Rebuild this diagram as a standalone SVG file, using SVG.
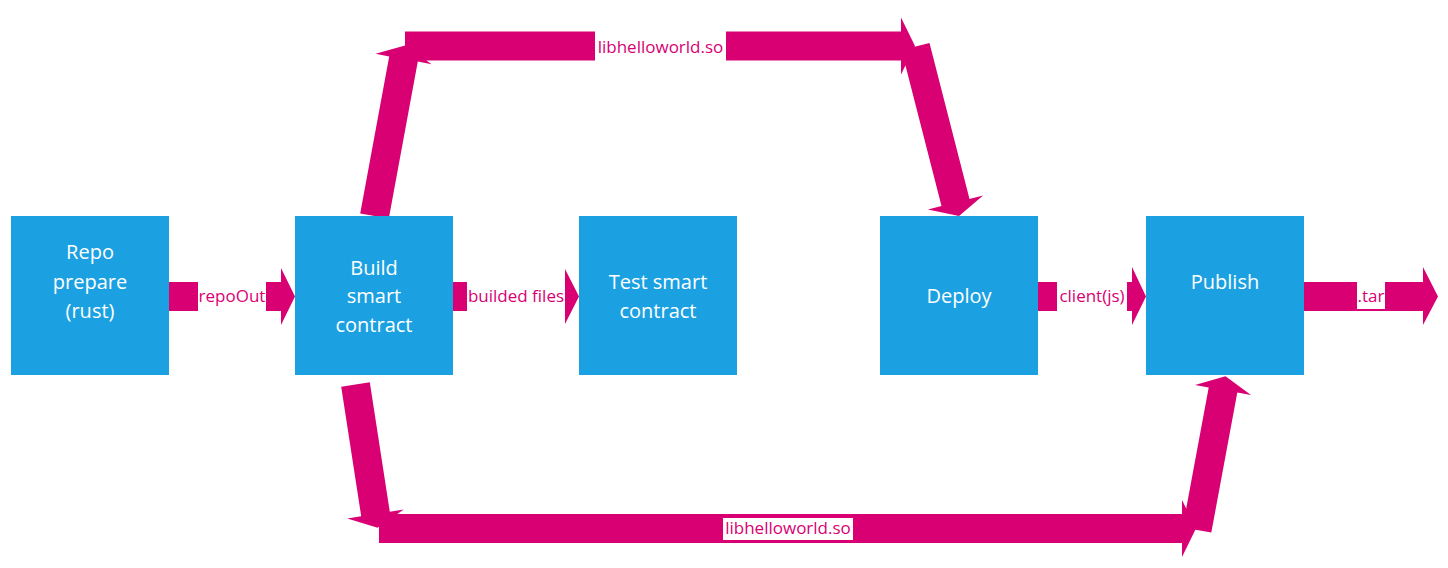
<svg xmlns="http://www.w3.org/2000/svg" width="1448" height="568" viewBox="0 0 1448 568">
<style>
.box{fill:#1BA1E2}
.nt{font-family:"Open Sans","Liberation Sans",sans-serif;font-size:20px;fill:#ffffff;text-anchor:middle}
.arr{fill:#D80073}
.lt{font-family:"Open Sans","Liberation Sans",sans-serif;font-size:17px;fill:#D80073;text-anchor:middle}
.bg{fill:#ffffff}
</style>
<rect width="1448" height="568" fill="#ffffff"/>
<g id="connectors">
  <!-- repoOut -->
  <rect class="arr" x="169" y="282" width="29" height="29"/>
  <rect class="arr" x="266" y="282" width="15" height="29"/>
  <polygon class="arr" points="281,268 295,296.5 281,325"/>
  <text class="lt" x="232" y="302">repoOut</text>
  <!-- builded files -->
  <rect class="arr" x="453" y="282" width="14" height="29"/>
  <polygon class="arr" points="565,269 579,296.5 565,324"/>
  <text class="lt" x="516" y="302">builded files</text>
  <!-- client(js) -->
  <rect class="arr" x="1038" y="282" width="19" height="29"/>
  <rect class="arr" x="1127" y="282" width="6" height="29"/>
  <polygon class="arr" points="1132,267 1146,296.5 1132,325"/>
  <text class="lt" x="1092" y="302">client(js)</text>
  <!-- .tar -->
  <rect class="arr" x="1304" y="282" width="120" height="29"/>
  <polygon class="arr" points="1423,267 1438,296.5 1423,325"/>
  <rect class="bg" x="1357" y="282" width="28" height="27"/>
  <text class="lt" x="1371" y="302">.tar</text>
  <!-- top route: Build -> Deploy -->
  <polygon class="arr" points="360.2,213.4 389.2,56.4 375.5,53.8 406,45.2 431.5,64.2 417.8,61.6 388.8,218.6"/>
  <rect class="arr" x="405" y="31.5" width="190" height="29"/>
  <rect class="arr" x="726" y="31.5" width="176" height="29"/>
  <polygon class="arr" points="901,17.5 915,46 901,74.5"/>
  <polygon class="arr" points="901.5,50.1 929.5,42.9 969.5,198.9 983.1,195.5 959,216.1 927.9,209.5 941.5,206.1"/>
  <text class="lt" x="660.5" y="53">libhelloworld.so</text>
  <!-- bottom route: Build -> Publish -->
  <polygon class="arr" points="341.2,386.7 369.8,382.3 389.8,511.8 403.7,509.6 377.6,527.8 347.3,518.4 361.2,516.2"/>
  <rect class="arr" x="379" y="514" width="804" height="29"/>
  <polygon class="arr" points="1182,500 1196,528.5 1182,557"/>
  <polygon class="arr" points="1182.7,527.4 1208.7,387.4 1195,385 1225.5,376.2 1251,395 1237.3,392.6 1211.3,532.6"/>
  <rect class="bg" x="723" y="518" width="130" height="22"/>
  <text class="lt" x="788" y="534">libhelloworld.so</text>
</g>
<g id="repo">
  <rect class="box" x="11" y="216" width="158" height="159"/>
  <text class="nt" x="90" y="259">Repo</text>
  <text class="nt" x="90" y="289">prepare</text>
  <text class="nt" x="90" y="318">(rust)</text>
</g>
<g id="build">
  <rect class="box" x="295" y="216" width="158" height="159"/>
  <text class="nt" x="374" y="275">Build</text>
  <text class="nt" x="374" y="303">smart</text>
  <text class="nt" x="374" y="332">contract</text>
</g>
<g id="test">
  <rect class="box" x="579" y="216" width="158" height="159"/>
  <text class="nt" x="658" y="289">Test smart</text>
  <text class="nt" x="658" y="318">contract</text>
</g>
<g id="deploy">
  <rect class="box" x="880" y="216" width="158" height="159"/>
  <text class="nt" x="959" y="303">Deploy</text>
</g>
<g id="publish">
  <rect class="box" x="1146" y="216" width="158" height="159"/>
  <text class="nt" x="1225" y="289">Publish</text>
</g>
</svg>
